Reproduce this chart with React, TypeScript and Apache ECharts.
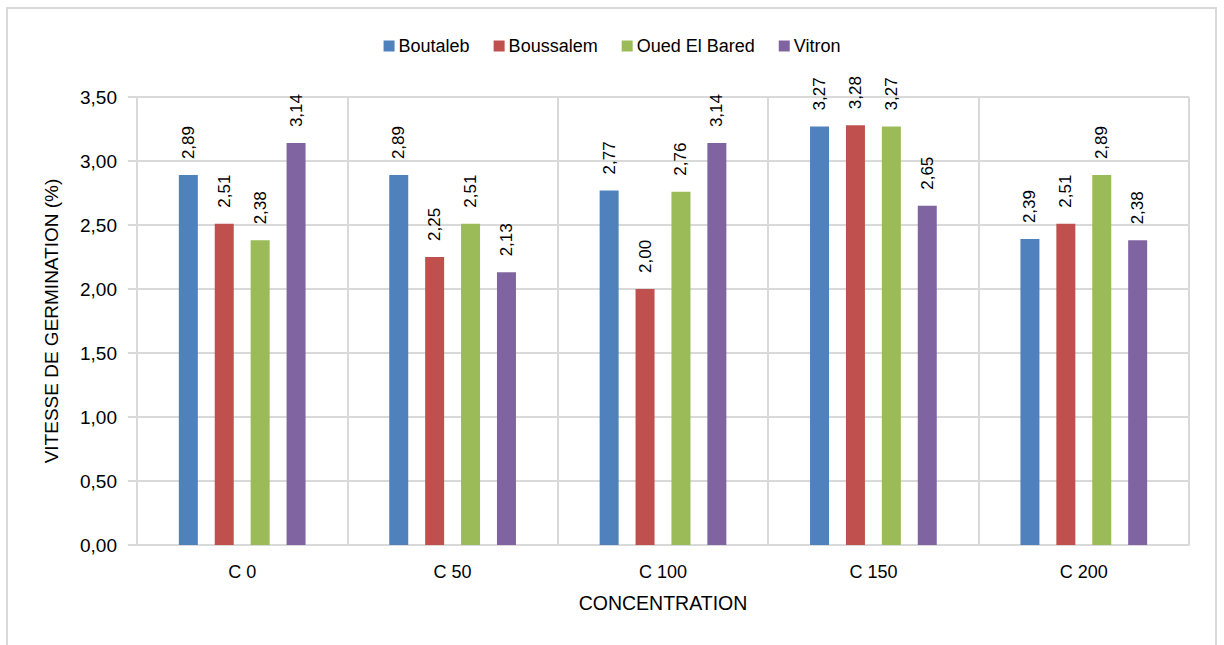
import React, { useEffect, useRef } from "react";
import * as echarts from "echarts";

const categories = ["C 0", "C 50", "C 100", "C 150", "C 200"];
const seriesNames = ["Boutaleb", "Boussalem", "Oued El Bared", "Vitron"];
const boutaleb = [2.89, 2.89, 2.77, 3.27, 2.39];
const boussalem = [2.51, 2.25, 2.0, 3.28, 2.51];
const ouedElBared = [2.38, 2.51, 2.76, 3.27, 2.89];
const vitron = [3.14, 2.13, 3.14, 2.65, 2.38];
const colors = ["#4F81BD", "#C0504D", "#9BBB59", "#8064A2"];
const yTicks = [0, 0.5, 1, 1.5, 2, 2.5, 3, 3.5];

const FONT = "'Liberation Sans', Arial, sans-serif";
const fmt = (v: number) => v.toFixed(2).replace(".", ",");

export default function App() {
  const ref = useRef<HTMLDivElement>(null);
  useEffect(() => {
    if (!ref.current) return;
    const chart = echarts.init(ref.current, undefined, { renderer: "svg" });
    const values = [boutaleb, boussalem, ouedElBared, vitron];
    chart.setOption({
      animation: false,
      backgroundColor: "#ffffff",
      textStyle: { fontFamily: FONT, color: "#000" },
      graphic: [
        {
          type: "rect",
          shape: { x: 7, y: 8, width: 1209, height: 700 },
          style: { fill: "none", stroke: "#d9d9d9", lineWidth: 2 },
          silent: true,
        },
      ],
      legend: {
        top: 32,
        left: "center",
        itemWidth: 11,
        itemHeight: 11,
        itemGap: 24,
        icon: "rect",
        textStyle: { fontFamily: FONT, fontSize: 18, color: "#000", padding: [0, 0, 0, -1] },
        data: seriesNames,
      },
      grid: { left: 137, right: 35, top: 97, bottom: 100, containLabel: false },
      xAxis: {
        type: "category",
        data: categories,
        name: "CONCENTRATION",
        nameLocation: "middle",
        nameGap: 48,
        nameTextStyle: { fontFamily: FONT, fontSize: 19.5, color: "#000" },
        axisLine: { lineStyle: { color: "#d9d9d9", width: 2 } },
        axisTick: { show: false },
        splitLine: { show: true, lineStyle: { color: "#d9d9d9", width: 2 } },
        axisLabel: { fontFamily: FONT, fontSize: 18, color: "#000", margin: 18 },
      },
      yAxis: {
        type: "value",
        min: 0,
        max: 3.5,
        interval: 0.5,
        name: "VITESSE DE GERMINATION (%)",
        nameLocation: "middle",
        nameGap: 76,
        nameTextStyle: { fontFamily: FONT, fontSize: 19, color: "#000" },
        axisLine: { show: false },
        axisTick: { show: true, length: 9, lineStyle: { color: "#d9d9d9", width: 2 } },
        splitLine: { show: true, lineStyle: { color: "#d9d9d9", width: 2 } },
        axisLabel: {
          fontFamily: FONT,
          fontSize: 19,
          color: "#000",
          margin: 20,
          formatter: (v: number) => (yTicks.includes(v) ? fmt(v) : ""),
        },
      },
      series: seriesNames.map((name, i) => ({
        name,
        type: "bar",
        data: values[i],
        barWidth: 19,
        barGap: "89%",
        itemStyle: { color: colors[i] },
        label: {
          show: true,
          position: "top",
          rotate: 90,
          align: "left",
          verticalAlign: "middle",
          distance: 16,
          fontFamily: FONT,
          fontSize: 17,
          color: "#000",
          formatter: (p: any) => fmt(p.value),
        },
      })),
    });
    return () => chart.dispose();
  }, []);
  return (
    <div
      ref={ref}
      style={{ position: "fixed", left: 0, top: 0, width: 1224, height: 645, background: "#fff" }}
    />
  );
}
